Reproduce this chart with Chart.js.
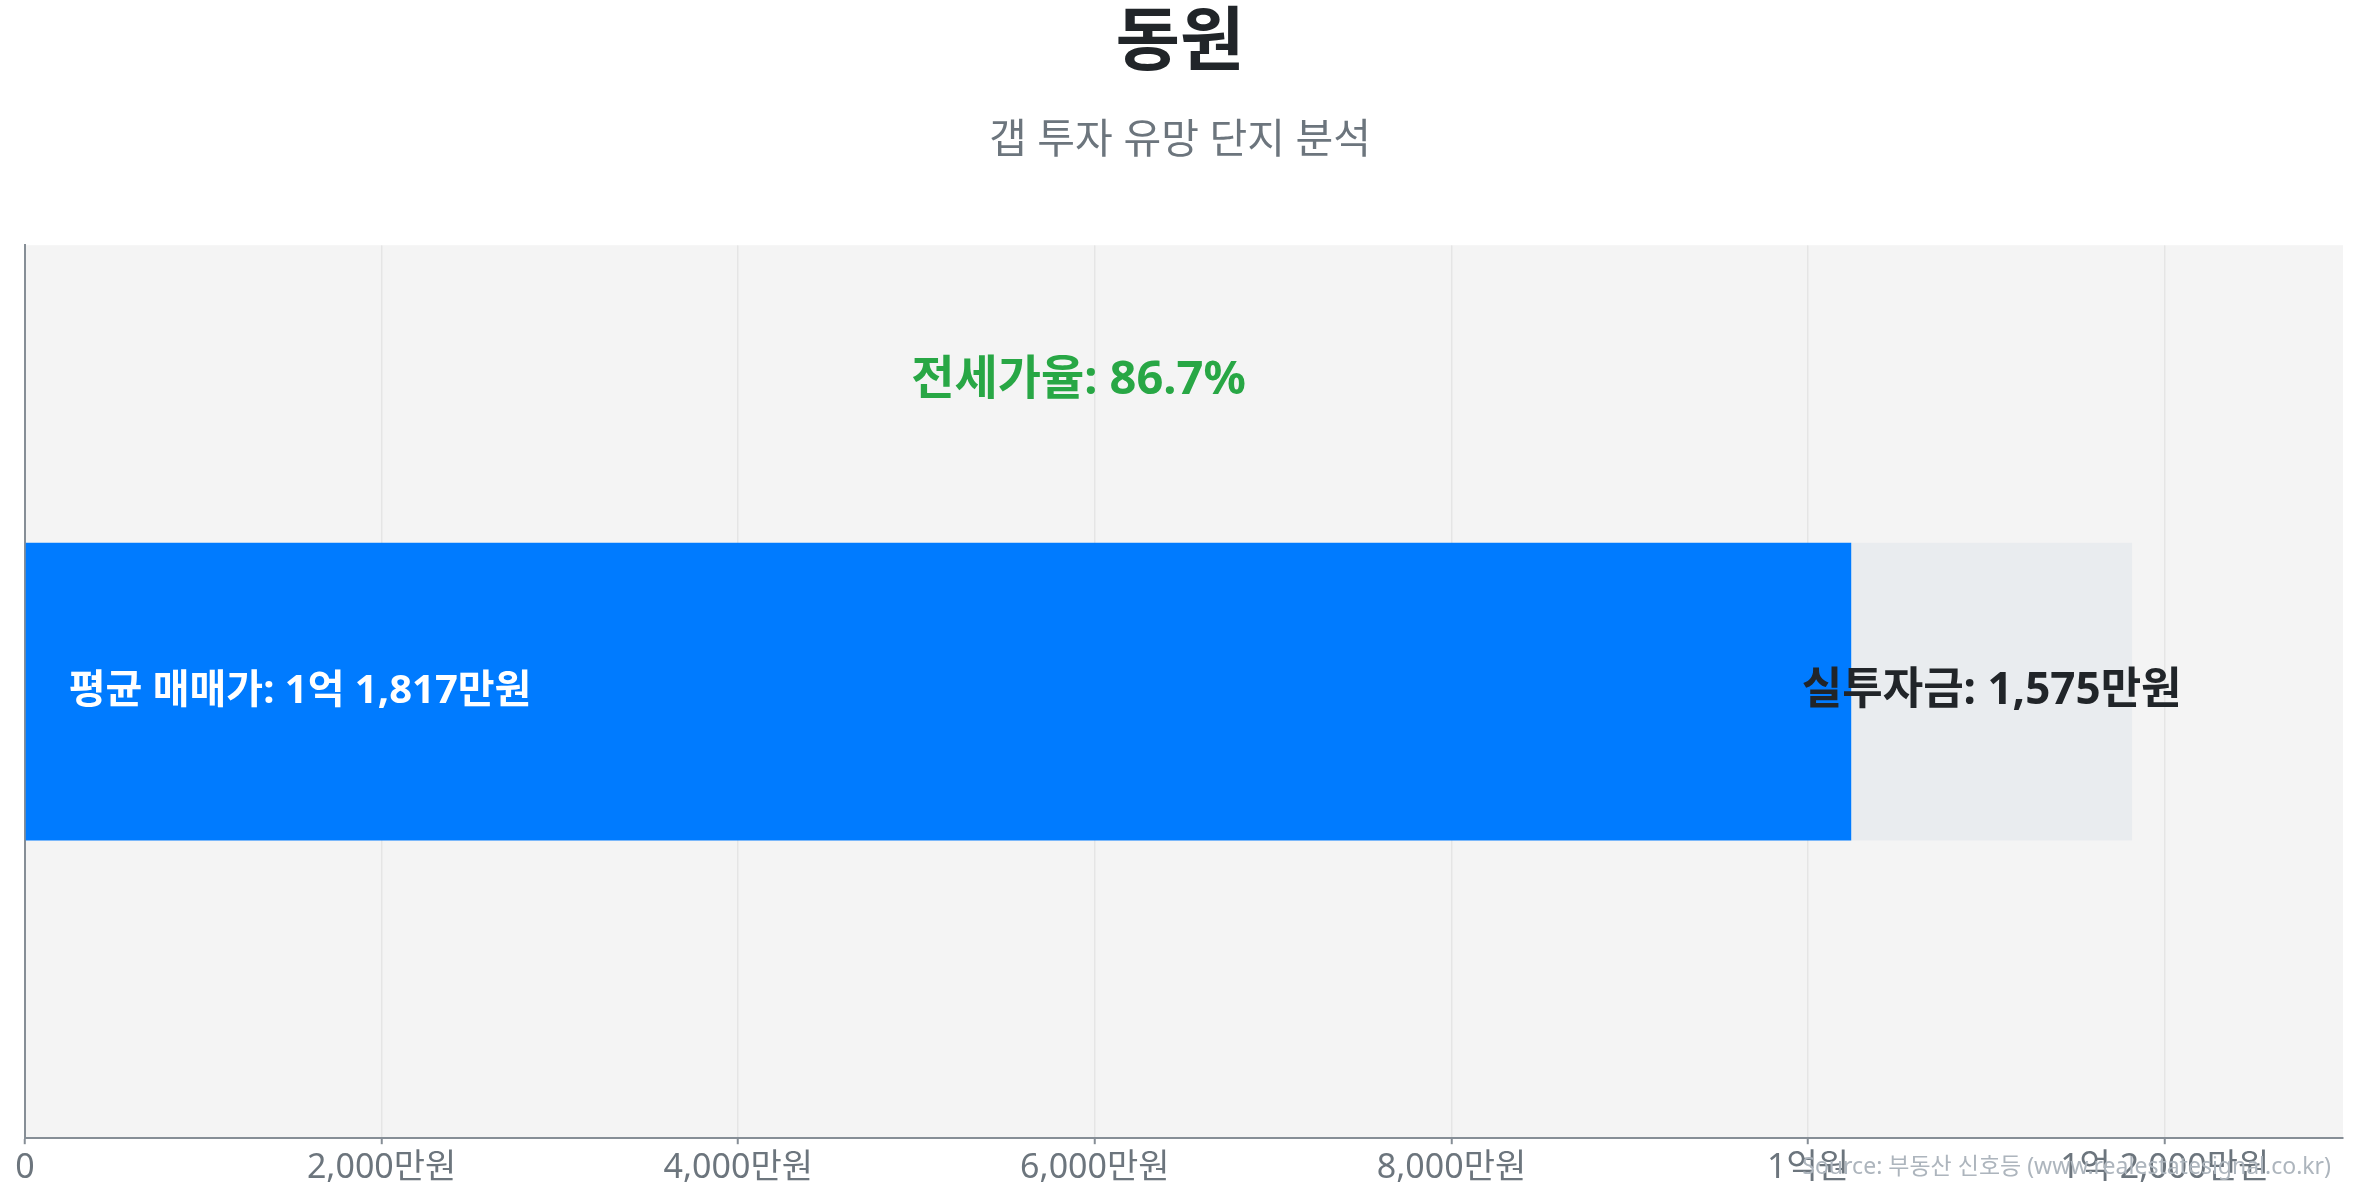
<!DOCTYPE html>
<html lang="ko">
<head>
<meta charset="utf-8">
<title>동원 갭 투자 분석</title>
<script src="https://cdn.jsdelivr.net/npm/chart.js@4.4.1/dist/chart.umd.min.js"></script>
<style>
  html, body { margin: 0; padding: 0; background: #ffffff; }
  #wrap { width: 2357px; height: 1200px; position: relative; }
</style>
</head>
<body>
<div id="wrap"><canvas id="gapChart"></canvas></div>
<script>
const FONT = "'Noto Sans', 'Noto Sans CJK KR', sans-serif";

// data (만원 단위)
const categories = ['동원'];
const jeonsePrice = [10242];   // 평균 전세가
const gapAmount = [1575];      // 실투자금
const tickValues = [0, 2000, 4000, 6000, 8000, 10000, 12000];
const sourceText = 'Source: 부동산 신호등 (www.realestatesignal.co.kr)';

function fmtMan(v) {
    if (v === 0) return '0';
    const eok = Math.floor(v / 10000);
    const man = v % 10000;
    if (eok && man) return eok + '억 ' + man.toLocaleString('en-US') + '만원';
    if (eok) return eok + '억원';
    return man.toLocaleString('en-US') + '만원';
}

const bgPlugin = {
    id: 'areaBg',
    beforeDraw(chart) {
        const { ctx, chartArea: a } = chart;
        ctx.save();
        ctx.fillStyle = '#f4f4f4';
        ctx.fillRect(a.left, a.top, a.right - a.left, a.bottom - a.top);
        ctx.restore();
    }
};

const labelPlugin = {
    id: 'barLabels',
    afterDatasetsDraw(chart) {
        const { ctx } = chart;
        const blue = chart.getDatasetMeta(0).data[0];
        const gray = chart.getDatasetMeta(1).data[0];
        const total = jeonsePrice[0] + gapAmount[0];
        const ratio = jeonsePrice[0] / total * 100;
        const xs = chart.scales.x;
        ctx.save();
        ctx.textBaseline = 'middle';

        ctx.fillStyle = '#ffffff';
        ctx.textAlign = 'left';
        ctx.font = 'bold 40px ' + FONT;
        ctx.fillText('평균 매매가: ' + fmtMan(total), blue.base + 43, blue.y);

        ctx.fillStyle = '#212529';
        ctx.textAlign = 'center';
        ctx.font = 'bold 44px ' + FONT;
        ctx.fillText('실투자금: ' + fmtMan(gapAmount[0]), (gray.base + gray.x) / 2, gray.y);

        const top = blue.y - blue.height / 2;
        ctx.fillStyle = '#28a745';
        ctx.font = 'bold 47px ' + FONT;
        ctx.fillText('전세가율: ' + ratio.toFixed(1) + '%', xs.getPixelForValue(total / 2), top - blue.height * 0.545);
        ctx.restore();
    },
    afterDraw(chart) {
        const { ctx, chartArea: a } = chart;
        ctx.save();
        ctx.fillStyle = '#adb5bd';
        ctx.font = '23px ' + FONT;
        ctx.textAlign = 'right';
        ctx.textBaseline = 'middle';
        ctx.fillText(sourceText, a.right - 12, 1167);
        ctx.restore();
    }
};

new Chart(document.getElementById('gapChart'), {
    type: 'bar',
    data: {
        labels: categories,
        datasets: [
            { label: '전세가', data: jeonsePrice, backgroundColor: '#007bff', borderWidth: 0 },
            { label: '실투자금', data: gapAmount, backgroundColor: '#e9ecef', borderWidth: 0 }
        ]
    },
    options: {
        indexAxis: 'y',
        responsive: true,
        maintainAspectRatio: false,
        animation: false,
        datasets: { bar: { categoryPercentage: 1, barPercentage: 1 / 3 } },
        layout: { padding: { left: 17, right: 14, bottom: 7 } },
        plugins: {
            legend: { display: false },
            tooltip: { enabled: false },
            title: {
                display: true,
                text: categories[0],
                color: '#212529',
                font: { family: FONT, size: 70, weight: 'bold', lineHeight: 1.2 },
                padding: { top: 3, bottom: 30 }
            },
            subtitle: {
                display: true,
                text: '갭 투자 유망 단지 분석',
                color: '#6c757d',
                font: { family: FONT, size: 41, lineHeight: 1.2 },
                padding: { top: 0, bottom: 79 }
            }
        },
        scales: {
            x: {
                stacked: true,
                min: 0,
                max: 13000,
                afterBuildTicks(scale) {
                    scale.ticks = tickValues.map(v => ({ value: v }));
                },
                ticks: {
                    color: '#6c757d',
                    font: { family: FONT, size: 34 },
                    padding: 4,
                    maxRotation: 0,
                    callback: v => fmtMan(v)
                },
                grid: { color: 'rgba(0,0,0,0.06)', lineWidth: 1.5, tickLength: 6, tickColor: '#868e96', tickWidth: 2 },
                border: { color: '#868e96', width: 2 }
            },
            y: {
                stacked: true,
                ticks: { display: false },
                grid: { display: false },
                border: { color: '#868e96', width: 2 }
            }
        }
    },
    plugins: [bgPlugin, labelPlugin]
});
</script>
</body>
</html>
